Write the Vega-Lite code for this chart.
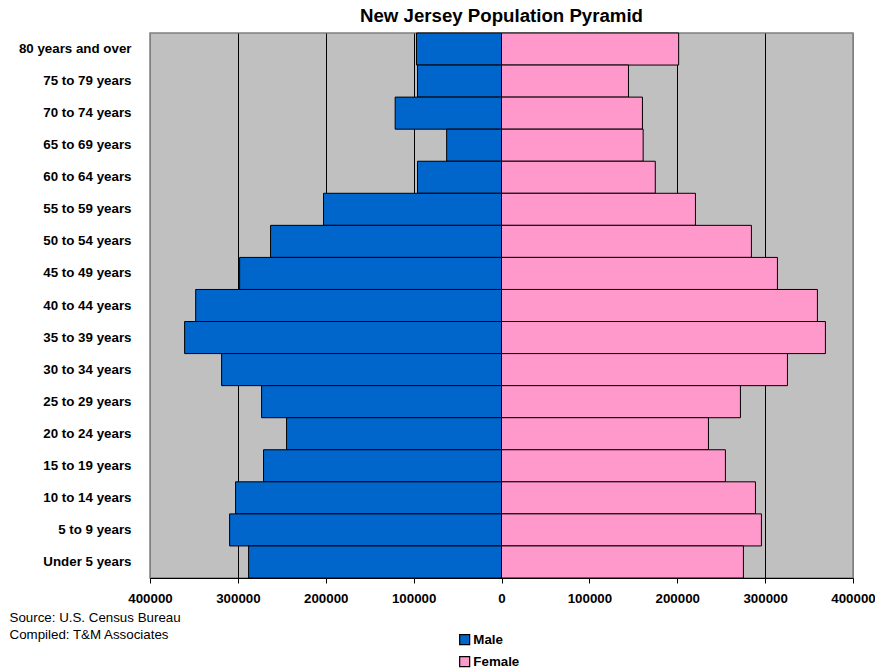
{
  "$schema": "https://vega.github.io/schema/vega-lite/v6.json",
  "autosize": {"type": "none"},
  "width": 703,
  "height": 545,
  "padding": {"left": 150, "top": 33, "right": 22, "bottom": 91},
  "background": "white",
  "title": {"text": "New Jersey Population Pyramid", "font": "Liberation Sans", "fontSize": 18.67, "fontWeight": "bold", "color": "black", "anchor": "middle", "offset": 7},
  "config": {
    "font": "Liberation Sans",
    "view": {"fill": "#C0C0C0", "stroke": "#808080", "strokeWidth": 1.5}
  },
  "data": {"values": [
    {"age": "80 years and over", "sex": "Male", "pop": -96700},
    {"age": "75 to 79 years", "sex": "Male", "pop": -95600},
    {"age": "70 to 74 years", "sex": "Male", "pop": -121000},
    {"age": "65 to 69 years", "sex": "Male", "pop": -62400},
    {"age": "60 to 64 years", "sex": "Male", "pop": -95600},
    {"age": "55 to 59 years", "sex": "Male", "pop": -202500},
    {"age": "50 to 54 years", "sex": "Male", "pop": -262800},
    {"age": "45 to 49 years", "sex": "Male", "pop": -298000},
    {"age": "40 to 44 years", "sex": "Male", "pop": -348000},
    {"age": "35 to 39 years", "sex": "Male", "pop": -360600},
    {"age": "30 to 34 years", "sex": "Male", "pop": -318500},
    {"age": "25 to 29 years", "sex": "Male", "pop": -273000},
    {"age": "20 to 24 years", "sex": "Male", "pop": -244600},
    {"age": "15 to 19 years", "sex": "Male", "pop": -270800},
    {"age": "10 to 14 years", "sex": "Male", "pop": -302600},
    {"age": "5 to 9 years", "sex": "Male", "pop": -309400},
    {"age": "Under 5 years", "sex": "Male", "pop": -287800},
    {"age": "80 years and over", "sex": "Female", "pop": 201600},
    {"age": "75 to 79 years", "sex": "Female", "pop": 144500},
    {"age": "70 to 74 years", "sex": "Female", "pop": 160400},
    {"age": "65 to 69 years", "sex": "Female", "pop": 161200},
    {"age": "60 to 64 years", "sex": "Female", "pop": 175000},
    {"age": "55 to 59 years", "sex": "Female", "pop": 220700},
    {"age": "50 to 54 years", "sex": "Female", "pop": 284400},
    {"age": "45 to 49 years", "sex": "Female", "pop": 314000},
    {"age": "40 to 44 years", "sex": "Female", "pop": 359500},
    {"age": "35 to 39 years", "sex": "Female", "pop": 368600},
    {"age": "30 to 34 years", "sex": "Female", "pop": 325400},
    {"age": "25 to 29 years", "sex": "Female", "pop": 271900},
    {"age": "20 to 24 years", "sex": "Female", "pop": 235500},
    {"age": "15 to 19 years", "sex": "Female", "pop": 254800},
    {"age": "10 to 14 years", "sex": "Female", "pop": 289000},
    {"age": "5 to 9 years", "sex": "Female", "pop": 295800},
    {"age": "Under 5 years", "sex": "Female", "pop": 275300}
  ]},
  "mark": {"type": "bar", "stroke": "black", "strokeWidth": 1},
  "encoding": {
    "y": {
      "field": "age", "type": "nominal",
      "sort": ["80 years and over", "75 to 79 years", "70 to 74 years", "65 to 69 years", "60 to 64 years", "55 to 59 years", "50 to 54 years", "45 to 49 years", "40 to 44 years", "35 to 39 years", "30 to 34 years", "25 to 29 years", "20 to 24 years", "15 to 19 years", "10 to 14 years", "5 to 9 years", "Under 5 years"],
      "scale": {"paddingInner": 0, "paddingOuter": 0},
      "axis": {"title": null, "ticks": false, "domain": false, "labelPadding": 19, "labelFontSize": 13.33, "labelFontWeight": "bold", "labelColor": "black"}
    },
    "x": {
      "field": "pop", "type": "quantitative",
      "scale": {"domain": [-400000, 400000], "nice": false},
      "axis": {
        "values": [-400000, -300000, -200000, -100000, 0, 100000, 200000, 300000, 400000],
        "labelExpr": "format(abs(datum.value), 'd')",
        "labelFontSize": 13.33, "labelFontWeight": "bold", "labelColor": "black",
        "labelPadding": 8, "labelFlush": false,
        "tickColor": "black", "tickSize": 5, "domainColor": "black", "domainWidth": 1,
        "grid": true,
        "gridColor": {"condition": {"test": "abs(datum.value) >= 400000", "value": "#808080"}, "value": "black"},
        "gridOpacity": 1, "gridWidth": 1,
        "title": ["Source: U.S. Census Bureau", "Compiled: T&M Associates"],
        "titleFontSize": 13.33, "titleFontWeight": "normal", "titleColor": "black",
        "titleAlign": "left", "titleAnchor": "start", "titleBaseline": "top",
        "titleX": -141, "titleY": 32, "titleLineHeight": 17
      }
    },
    "color": {
      "field": "sex", "type": "nominal",
      "scale": {"domain": ["Male", "Female"], "range": ["#0066CC", "#FF99CC"]},
      "legend": {
        "title": null, "orient": "none", "legendX": 308, "legendY": 600,
        "symbolType": "square", "symbolSize": 100, "symbolStrokeColor": "black", "symbolStrokeWidth": 1.2,
        "symbolOpacity": 1,
        "labelFontSize": 13.33, "labelFontWeight": "bold", "labelColor": "black",
        "labelOffset": 2, "rowPadding": 6
      }
    }
  }
}
